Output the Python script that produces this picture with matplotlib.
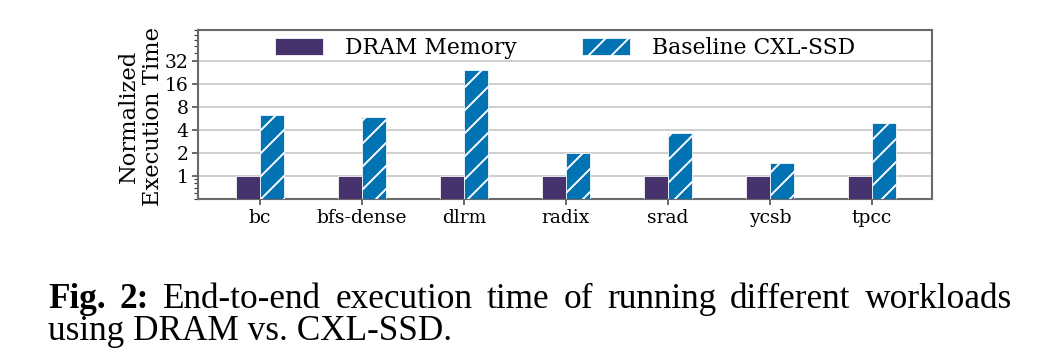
import matplotlib
matplotlib.use("Agg")
import matplotlib.pyplot as plt
import numpy as np
from matplotlib.ticker import FixedLocator, NullFormatter

# data
workloads = ['bc', 'bfs-dense', 'dlrm', 'radix', 'srad', 'ycsb', 'tpcc']
dram_time = [1, 1, 1, 1, 1, 1, 1]
cxl_time = [6.2, 5.9, 24.2, 2.0, 3.6, 1.47, 4.9]
yticks = [1, 2, 4, 8, 16, 32]
series_names = ['DRAM Memory', 'Baseline CXL-SSD']
caption_line1 = ['Fig.', '2:', 'End-to-end', 'execution', 'time', 'of', 'running',
                 'different', 'workloads']
caption_line2 = 'using DRAM vs. CXL-SSD.'

DPI = 138
W, H = 1064, 354
plt.rcParams['hatch.color'] = 'white'
plt.rcParams['hatch.linewidth'] = 1.0
plt.rcParams['font.family'] = 'DejaVu Serif'

fig = plt.figure(figsize=(W / DPI, H / DPI), dpi=DPI)
ax = fig.add_axes([198 / W, 1 - 199 / H, (932 - 198) / W, (199 - 30) / H])

x = np.arange(len(workloads))
width = 0.235
purple = '#46336e'
blue = '#0173b2'
ax.bar(x - width / 2, dram_time, width, color=purple, edgecolor='white', linewidth=0.4,
       label=series_names[0], zorder=3)
ax.bar(x + width / 2, cxl_time, width, color=blue, edgecolor='white', linewidth=0.4,
       hatch='//', label=series_names[1], zorder=3)

ax.set_yscale('log')
ax.set_ylim(0.5, 81)
ax.set_xlim(-0.61, 6.59)
ax.yaxis.set_major_locator(FixedLocator(yticks))
ax.set_yticklabels([str(t) for t in yticks])
ax.yaxis.set_minor_locator(FixedLocator([0.5, 0.6, 0.7, 0.8, 0.9, 40, 50, 60, 70, 80]))
ax.yaxis.set_minor_formatter(NullFormatter())
ax.set_xticks(x)
ax.set_xticklabels(workloads)
ax.tick_params(axis='both', labelsize=9.8, colors='#404040', labelcolor='black',
               length=3, width=0.8, pad=2)
ax.tick_params(axis='y', which='minor', length=2, width=0.6, colors='#404040')
ax.grid(axis='y', which='major', color='#c8c8c8', linewidth=0.9, zorder=0)
for s in ax.spines.values():
    s.set_color('#6a6a6a')
    s.set_linewidth(1.1)

ax.set_ylabel('Normalized\nExecution Time', fontsize=11.8, linespacing=1.1)
ax.yaxis.set_label_coords(-0.047, 0.49)

ax.legend(loc='upper center', bbox_to_anchor=(0.5, 1.075), ncol=2, frameon=False,
          fontsize=11.4, handlelength=2.2, handleheight=0.8, handletextpad=1.0,
          columnspacing=3.0)

# caption, justified on the first line
left, right = 48, 1012
y1 = 1 - 308 / H
y2 = 1 - 340 / H
cap_size = 18.4
words = []
for i, w in enumerate(caption_line1):
    t = fig.text(0, y1, w, fontsize=cap_size, family='Liberation Serif',
                 weight='bold' if i < 2 else 'normal', ha='left', va='baseline')
    words.append(t)
fig.text(left / W, y2, caption_line2, fontsize=cap_size, family='Liberation Serif',
         ha='left', va='baseline')

fig.canvas.draw()
r = fig.canvas.get_renderer()
widths = [t.get_window_extent(renderer=r).width for t in words]
gap = (right - left - sum(widths)) / (len(words) - 1)
pos = left
for t, wd in zip(words, widths):
    t.set_x(pos / W)
    pos += wd + gap

fig.savefig('out.png', dpi=DPI)
